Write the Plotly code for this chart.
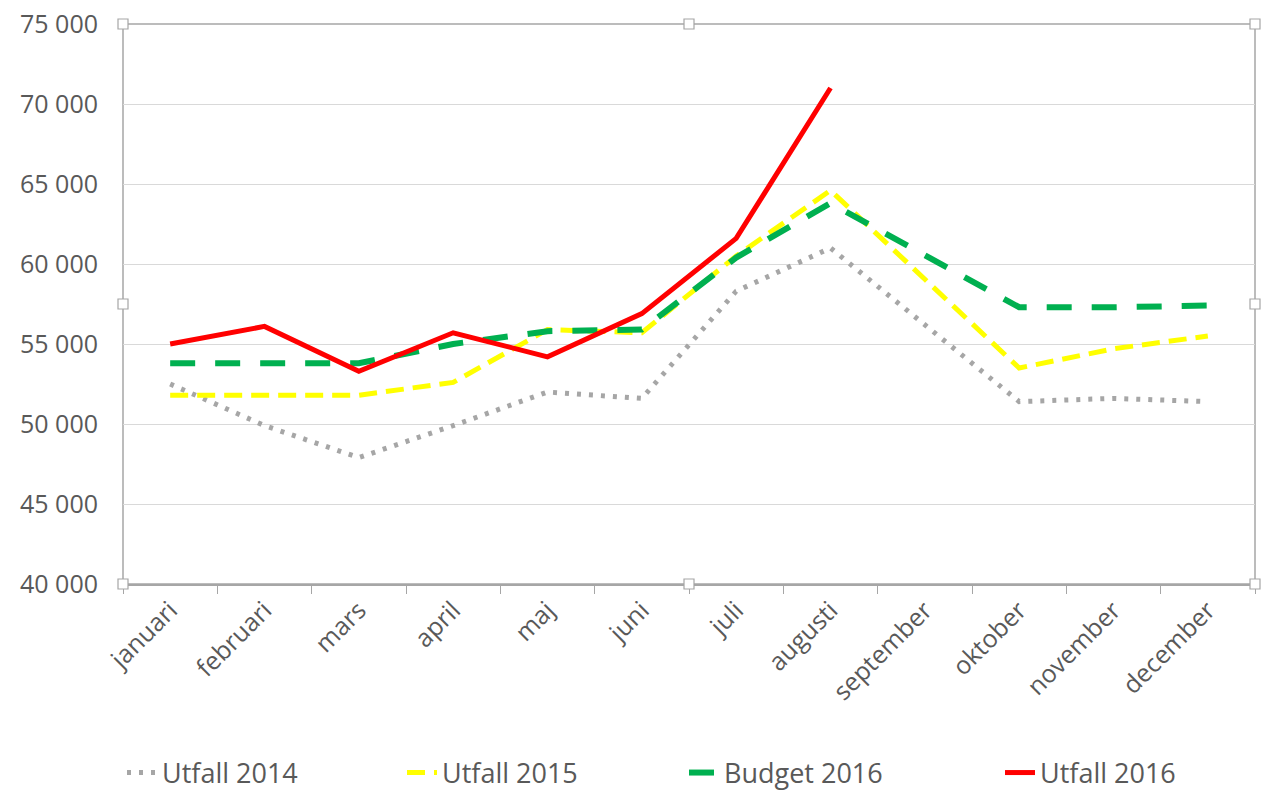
import plotly.graph_objects as go

months = ["januari", "februari", "mars", "april", "maj", "juni", "juli",
          "augusti", "september", "oktober", "november", "december"]

utfall_2014 = [52500, 49900, 47900, 49900, 52000, 51600, 58300, 61000, 56200, 51400, 51600, 51400]
utfall_2015 = [51800, 51800, 51800, 52600, 55900, 55700, 60500, 64600, 59100, 53500, 54700, 55500]
budget_2016 = [53800, 53800, 53800, 55000, 55800, 55900, 60400, 63800, 60600, 57300, 57300, 57400]
utfall_2016 = [55000, 56100, 53300, 55700, 54200, 56900, 61600, 71000]

y_ticks = [40000, 45000, 50000, 55000, 60000, 65000, 70000, 75000]
y_tick_text = ["40 000", "45 000", "50 000", "55 000", "60 000", "65 000", "70 000", "75 000"]

FONT = "Open Sans"
TEXT = "#595959"

# plot area geometry in pixels
L, R, T, B = 123, 11, 24, 207
PW, PH = 1266 - L - R, 791 - T - B

fig = go.Figure()
fig.add_trace(go.Scatter(x=months, y=utfall_2014, name="Utfall 2014", mode="lines",
                         line=dict(color="#a6a6a6", width=5, dash="4px,8px"), legend="legend"))
fig.add_trace(go.Scatter(x=months, y=utfall_2015, name="Utfall 2015", mode="lines",
                         line=dict(color="#ffff00", width=5, dash="18px,9px"), legend="legend2"))
fig.add_trace(go.Scatter(x=months, y=budget_2016, name="Budget 2016", mode="lines",
                         line=dict(color="#00b050", width=6, dash="25px,20px"), legend="legend3"))
fig.add_trace(go.Scatter(x=months[:len(utfall_2016)], y=utfall_2016, name="Utfall 2016", mode="lines",
                         line=dict(color="#ff0000", width=5), legend="legend4"))

# frame around the plot area with small square handles
shapes = [dict(type="rect", xref="paper", yref="paper", x0=0, y0=0, x1=1, y1=1,
               line=dict(color="#a6a6a6", width=1.5), layer="below")]
hw, hh = 5 / PW, 5 / PH
for px, py in [(0, 0), (0.5, 0), (1, 0), (0, 0.5), (1, 0.5), (0, 1), (0.5, 1), (1, 1)]:
    shapes.append(dict(type="rect", xref="paper", yref="paper",
                       x0=px - hw, x1=px + hw, y0=py - hh, y1=py + hh,
                       line=dict(color="#a6a6a6", width=1.2), fillcolor="white"))


def legend_at(left_px):
    return dict(orientation="h", x=(left_px - L) / PW, xanchor="left",
                y=(PH + T - 773) / PH, yanchor="middle",
                font=dict(family=FONT, size=27, color=TEXT), bgcolor="rgba(0,0,0,0)",
                visible=True)


fig.update_layout(
    width=1266, height=791,
    margin=dict(l=L, r=R, t=T, b=B, autoexpand=False),
    paper_bgcolor="white", plot_bgcolor="white",
    font=dict(family=FONT, size=25, color=TEXT),
    showlegend=True,
    shapes=shapes,
    legend=legend_at(122),
    legend2=legend_at(402),
    legend3=legend_at(684),
    legend4=legend_at(1000),
    xaxis=dict(type="category", categoryorder="array", categoryarray=months,
               range=[-0.5, 11.5], tickangle=-45, showgrid=False, automargin=False,
               showline=True, linecolor="#a6a6a6", linewidth=1.5,
               ticks="outside", tickson="boundaries", ticklen=8, tickcolor="#a6a6a6",
               tickfont=dict(family=FONT, size=25, color=TEXT)),
    yaxis=dict(range=[40000, 75000], tickvals=y_ticks, ticktext=y_tick_text,
               showgrid=True, gridcolor="#d9d9d9", gridwidth=1.2, automargin=False,
               showline=False, zeroline=False, ticks="",
               ticklabelstandoff=24,
               tickfont=dict(family=FONT, size=25, color=TEXT)),
)

fig.write_html("out.html")
